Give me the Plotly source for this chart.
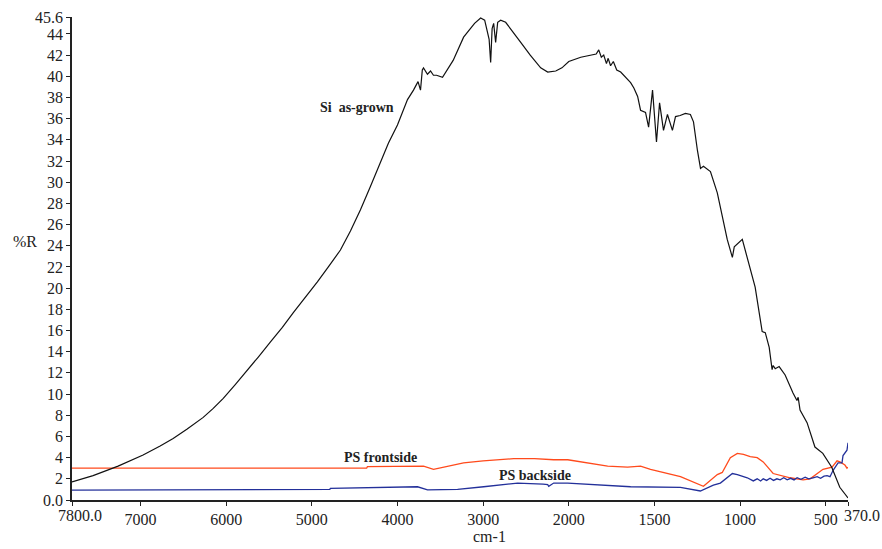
import numpy as np
import plotly.graph_objects as go

# ---- Data (wavenumber cm-1, %R) ----
si_wn = [7800, 7554, 7262, 7098, 6970, 6771, 6619, 6455, 6268, 6151, 6034, 5894, 5754, 5625,
         5485, 5344, 5216, 5076, 4935, 4807, 4666, 4549, 4432, 4316, 4199, 4105,
         4000, 3883, 3813, 3760, 3731, 3710, 3696, 3650, 3614, 3580, 3544, 3474, 3350, 3228,
         3100, 3029, 2982, 2930, 2912, 2895, 2877, 2854, 2830, 2795, 2737, 2650, 2561, 2450,
         2328, 2246, 2152, 2080, 2000, 1930, 1872, 1840, 1825, 1810, 1796, 1780, 1770, 1756,
         1740, 1720, 1697, 1660, 1639, 1620, 1598, 1581, 1552, 1534, 1511, 1488, 1470, 1447,
         1424, 1395, 1377, 1350, 1319, 1290, 1272, 1249, 1231, 1214, 1173, 1133, 1075, 1045,
         1034, 987, 970, 923, 912, 871, 853, 830, 813, 807, 795, 772, 737, 691, 668, 661, 650,
         609, 563, 517, 465, 418, 370]
si_r = [1.7, 2.3, 3.2, 3.75, 4.25, 5.1, 5.8, 6.7, 7.8, 8.65, 9.6, 10.9, 12.2, 13.5,
        14.9, 16.3, 17.7, 19.1, 20.6, 22.0, 23.6, 25.4, 27.4, 29.6, 31.8, 33.7,
        35.4, 37.8, 38.7, 39.5, 38.7, 40.6, 40.8, 40.2, 40.5, 40.1, 40.1, 39.9, 41.5, 43.7,
        45.0, 45.5, 45.3, 43.5, 41.3, 44.5, 45.0, 43.2, 45.1, 45.3, 45.1, 44.2, 43.2, 42.0,
        40.8, 40.4, 40.5, 40.8, 41.4, 41.8, 42.0, 42.1, 42.5, 41.8, 42.0, 41.2, 41.7, 41.0,
        41.4, 40.6, 40.4, 39.8, 39.4, 38.9, 38.1, 36.8, 36.6, 35.2, 38.7, 33.8, 37.5, 34.9,
        36.4, 34.9, 36.2, 36.3, 36.5, 36.4, 35.7, 33.0, 31.3, 31.5, 31.0, 29.0, 24.6, 22.9,
        23.9, 24.6, 23.6, 20.8, 20.1, 15.9, 15.8, 14.4, 12.3, 12.7, 12.4, 12.6, 11.8, 10.1,
        9.4, 9.7, 8.5, 7.3, 5.0, 4.4, 3.1, 1.2, 0.2]

front_wn = [7800, 4360, 4351, 4000, 3696, 3579, 3400, 3228, 3000, 2795, 2643, 2400, 2176,
            2012, 1930, 1850, 1773, 1657, 1581, 1523, 1348, 1214, 1133, 1104, 1057, 1016,
            980, 941, 900, 865, 807, 708, 632, 591, 516, 463, 434, 417, 400, 388, 376, 370]
front_r = [3.0, 3.0, 3.15, 3.2, 3.2, 2.9, 3.2, 3.5, 3.7, 3.8, 3.9, 3.9, 3.8,
           3.8, 3.6, 3.4, 3.2, 3.1, 3.2, 2.9, 2.2, 1.3, 2.4, 2.6, 4.0, 4.4,
           4.3, 4.1, 4.0, 3.6, 2.5, 2.1, 1.9, 2.0, 2.9, 3.1, 3.7, 3.6, 3.4, 3.3, 3.0, 3.1]

back_wn = [7800, 5760, 5754, 4790, 4783, 4280, 3848, 3766, 3649, 3298, 2994, 2713, 2597,
           2300, 2246, 2234, 2176, 2012, 1831, 1639, 1348, 1232, 1156, 1115, 1045, 1016,
           958, 923, 900, 880, 865, 845, 825, 805, 785, 766, 745, 725, 705, 685, 667, 645,
           620, 600, 574, 550, 530, 510, 492, 475, 457, 428, 405, 399, 376, 370]
back_r = [0.94, 0.94, 1.0, 1.0, 1.1, 1.16, 1.2, 1.25, 0.95, 1.0, 1.25, 1.5, 1.6,
          1.5, 1.45, 1.3, 1.6, 1.6, 1.4, 1.25, 1.2, 0.85, 1.4, 1.6, 2.5, 2.4,
          2.1, 1.8, 2.0, 1.8, 2.0, 1.85, 2.05, 1.85, 2.0, 1.9, 2.1, 1.9, 2.05, 1.9, 2.1, 1.95,
          2.15, 2.0, 2.1, 2.2, 2.05, 2.25, 2.3, 2.2, 2.8, 3.5, 3.5, 4.2, 4.7, 5.4]

x_tick_vals = [7800, 7000, 6000, 5000, 4000, 3000, 2000, 1500, 1000, 500, 370]
x_tick_text = ["", "7000", "6000", "5000", "4000", "3000", "2000", "1500", "1000", "500", ""]
x_edge_labels = [("7800.0", 7800), ("370.0", 370)]
y_tick_vals = [0, 2, 4, 6, 8, 10, 12, 14, 16, 18, 20, 22, 24, 26, 28, 30, 32, 34, 36, 38, 40, 42, 44, 45.6]
y_tick_text = ["0.0"] + [str(v) for v in range(2, 45, 2)] + ["45.6"]


def to_axis(wn):
    # scale change at 2000 cm-1: below 2000 the scale is doubled
    wn = np.asarray(wn, dtype=float)
    return np.where(wn >= 2000, wn, 2 * wn - 2000)


FONT = "Liberation Serif"
TXT = "#222222"
fig = go.Figure()
fig.add_trace(go.Scatter(x=to_axis(front_wn), y=front_r, mode="lines",
                         line=dict(color="#FF4A1C", width=1.3), showlegend=False))
fig.add_trace(go.Scatter(x=to_axis(back_wn), y=back_r, mode="lines",
                         line=dict(color="#23309A", width=1.3), showlegend=False))
fig.add_trace(go.Scatter(x=to_axis(si_wn), y=si_r, mode="lines",
                         line=dict(color="#111111", width=1.2), showlegend=False))

labels = [("Si  as-grown", 4468, 37.1), ("PS frontside", 4199, 4.06), ("PS backside", 2398, 2.27)]
for txt, wn, r in labels:
    fig.add_annotation(x=float(to_axis(wn)), y=r, text="<b>" + txt + "</b>", showarrow=False,
                       font=dict(family=FONT, size=14, color=TXT))

# edge tick labels (shifted inward as in the original)
fig.add_annotation(x=float(to_axis(7800)), y=0, xshift=8, yshift=-5, text=x_edge_labels[0][0],
                   showarrow=False, xanchor="center", yanchor="top",
                   font=dict(family=FONT, size=16, color=TXT))
fig.add_annotation(x=float(to_axis(370)), y=0, xshift=-6, yshift=-5, text=x_edge_labels[1][0],
                   showarrow=False, xanchor="left", yanchor="top",
                   font=dict(family=FONT, size=16, color=TXT))

fig.add_annotation(x=-0.0606, y=0.535, xref="paper", yref="paper", text="%R", showarrow=False,
                   xanchor="center", yanchor="middle", font=dict(family=FONT, size=16, color=TXT))
fig.add_annotation(x=0.538, y=-0.0766, xref="paper", yref="paper", text="cm-1", showarrow=False,
                   xanchor="center", yanchor="middle", font=dict(family=FONT, size=16, color=TXT))

fig.update_layout(
    width=882, height=549,
    margin=dict(l=72, r=34, t=17, b=49),
    paper_bgcolor="white", plot_bgcolor="white",
    font=dict(family=FONT, size=16, color=TXT),
)
fig.update_xaxes(range=[7800, -1260], tickmode="array", tickvals=to_axis(x_tick_vals).tolist(),
                 ticktext=x_tick_text, tickangle=0, automargin=False,
                 showgrid=False, zeroline=False, showline=True,
                 linecolor=TXT, linewidth=1.5, ticks="outside", ticklen=4,
                 tickcolor=TXT, tickfont=dict(family=FONT, size=16, color=TXT))
fig.update_yaxes(range=[0, 45.6], tickmode="array", tickvals=y_tick_vals, ticktext=y_tick_text,
                 automargin=False, showgrid=False, zeroline=False, showline=True,
                 linecolor=TXT, linewidth=1.5,
                 ticks="outside", ticklen=4, tickcolor=TXT,
                 tickfont=dict(family=FONT, size=16, color=TXT))

fig.write_html("out.html")
